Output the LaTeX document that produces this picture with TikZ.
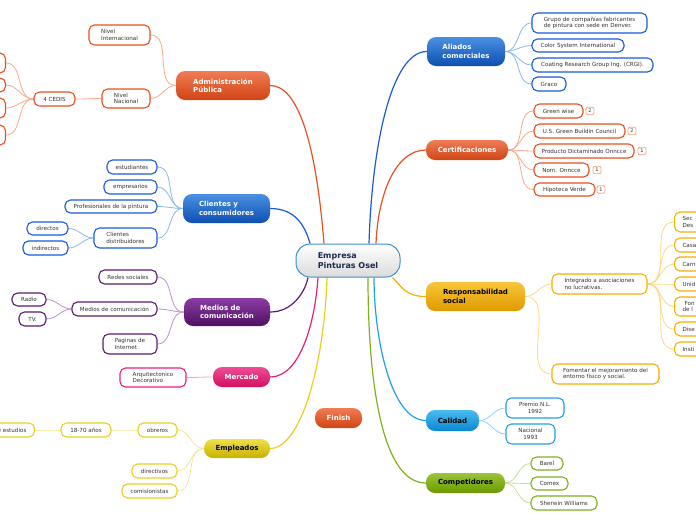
\documentclass[tikz,border=0pt]{standalone}
\usepackage{fontspec}
\setmainfont{DejaVu Sans}
\usetikzlibrary{backgrounds,calc}
\definecolor{txtgray}{HTML}{333333}
\definecolor{bluetop}{HTML}{4A90E2}\definecolor{bluebot}{HTML}{0D4FB0}\definecolor{blueb}{HTML}{1A5AD8}\definecolor{bluel}{HTML}{8AB8F0}
\definecolor{redtop}{HTML}{F07C55}\definecolor{redbot}{HTML}{D04414}\definecolor{redb}{HTML}{E85020}\definecolor{redl}{HTML}{F8AA8C}
\definecolor{goldtop}{HTML}{F8C638}\definecolor{goldbot}{HTML}{E09A00}\definecolor{goldb}{HTML}{F5B000}\definecolor{goldl}{HTML}{FCD888}
\definecolor{ltbtop}{HTML}{48BCF0}\definecolor{ltbbot}{HTML}{0A88D0}\definecolor{ltbb}{HTML}{20A0E8}\definecolor{ltbl}{HTML}{90D0F8}
\definecolor{grntop}{HTML}{9CC438}\definecolor{grnbot}{HTML}{6A9A00}\definecolor{grnb}{HTML}{80B020}\definecolor{grnl}{HTML}{C4E098}
\definecolor{purtop}{HTML}{8C3CA4}\definecolor{purbot}{HTML}{4E1060}\definecolor{purb}{HTML}{5A1A70}\definecolor{purl}{HTML}{BC94CC}
\definecolor{pnktop}{HTML}{F04C94}\definecolor{pnkbot}{HTML}{D01060}\definecolor{pnkb}{HTML}{E82078}\definecolor{pnkl}{HTML}{F8A4CC}
\definecolor{yeltop}{HTML}{F0E048}\definecolor{yelbot}{HTML}{C8B000}\definecolor{yelb}{HTML}{E8D020}\definecolor{yell}{HTML}{F0E898}
\definecolor{ctrb}{HTML}{3A90D0}\definecolor{ctrt}{HTML}{1A2A50}\definecolor{badgeb}{HTML}{F4A888}
\tikzset{
  mainbox/.style={rounded corners=9pt, inner sep=0pt, align=left,
    font=\bfseries\fontsize{7}{8.4}\selectfont},
  subbox/.style={draw, fill=white, rounded corners=5.5pt, line width=1.1pt, inner sep=0pt,
    align=left, text=txtgray, font=\fontsize{5.6}{6.6}\selectfont},
  badge/.style={draw=badgeb, fill=white, rounded corners=2pt, line width=0.8pt, inner sep=0pt,
    minimum width=8pt, minimum height=7.5pt, text=txtgray, font=\fontsize{5}{5}\selectfont},
  mline/.style={line width=1.2pt},
  sline/.style={line width=0.8pt},
}
\begin{document}
\begin{tikzpicture}[x=1pt,y=-1pt]
\useasboundingbox (0,0) rectangle (696,520);
% centre
\node[draw=ctrb, line width=1pt, top color=white, bottom color=black!14, rounded corners=14pt,
  minimum width=104pt, minimum height=33pt, inner sep=0pt, align=left, text=ctrt,
  font=\bfseries\fontsize{8}{9.6}\selectfont] (ctr) at (348,260.5) {Empresa\\Pinturas Osel};
% main branches
\node[mainbox, top color=bluetop, bottom color=bluebot, text=white, minimum width=78pt, minimum height=29pt] (ali) at (466,51.5) {Aliados\\comerciales};
\node[mainbox, top color=redtop, bottom color=redbot, text=white, minimum width=82pt, minimum height=20pt] (cert) at (467,150) {Certificaciones};
\node[mainbox, top color=goldtop, bottom color=goldbot, text=black, minimum width=99pt, minimum height=29pt] (resp) at (475.5,296.5) {Responsabilidad\\social};
\node[mainbox, top color=ltbtop, bottom color=ltbbot, text=black, minimum width=53pt, minimum height=21pt] (cal) at (452.5,420.5) {Calidad};
\node[mainbox, top color=grntop, bottom color=grnbot, text=black, minimum width=79pt, minimum height=20pt] (comp) at (465.5,483) {Competidores};
\node[mainbox, top color=redtop, bottom color=redbot, text=white, minimum width=94pt, minimum height=29pt] (adm) at (223,85.5) {Administración\\Pública};
\node[mainbox, top color=bluetop, bottom color=bluebot, text=white, minimum width=87pt, minimum height=29pt] (cli) at (226.5,208.5) {Clientes y\\consumidores};
\node[mainbox, top color=purtop, bottom color=purbot, text=white, minimum width=86pt, minimum height=28pt] (med) at (227,312) {Medios de\\comunicación};
\node[mainbox, top color=pnktop, bottom color=pnkbot, text=white, minimum width=57pt, minimum height=20pt] (merc) at (241.5,377) {Mercado};
\node[mainbox, top color=yeltop, bottom color=yelbot, text=black, minimum width=66pt, minimum height=19pt] (emp) at (237,448.5) {Empleados};
\node[mainbox, top color=redtop, bottom color=redbot, text=white, minimum width=47pt, minimum height=20pt] (fin) at (338.5,418) {Finish};
% Aliados
\begin{scope}[every node/.append style={subbox, draw=blueb}]
\node[minimum width=115pt, minimum height=20pt] (a1) at (589.5,23) {Grupo de compañías fabricantes\\de pintura con sede en Denver.};
\node[minimum width=92pt, minimum height=13pt] (a2) at (578,45.5) {Color System International};
\node[minimum width=121pt, minimum height=14pt] (a3) at (592.5,65) {Coating Research Group Ing. (CRGI).};
\node[minimum width=34pt, minimum height=14pt] (a4) at (549,84) {Graco};
\end{scope}
% Certificaciones
\begin{scope}[every node/.append style={subbox, draw=redb}]
\node[minimum width=49pt, minimum height=14pt] (c1) at (558.5,111) {Green wise};
\node[minimum width=91pt, minimum height=14pt] (c2) at (579.5,131) {U.S. Green Buildin Council};
\node[minimum width=100pt, minimum height=14pt] (c3) at (584,151) {Producto Dictaminado Onncce};
\node[minimum width=55pt, minimum height=14pt] (c4) at (561.5,170) {Nom. Onncce};
\node[minimum width=61pt, minimum height=13pt] (c5) at (564.5,189.5) {Hipoteca Verde};
\end{scope}
\node[badge] (b1) at (590,111) {2};
\node[badge] (b2) at (632,131) {2};
\node[badge] (b3) at (642,151) {1};
\node[badge] (b4) at (597,170) {1};
\node[badge] (b5) at (601,189.5) {1};
% Responsabilidad
\begin{scope}[every node/.append style={subbox, draw=goldb}]
\node[minimum width=95pt, minimum height=20pt] (r1) at (599.5,284) {Integrado a asociaciones\\no lucrativas.};
\node[minimum width=107pt, minimum height=20pt] (r2) at (605.5,374) {Fomentar el mejoramiento del\\entorno físico y social.};
\node[anchor=west, inner xsep=8pt, text width=32pt, minimum height=20pt] (s1) at (674,222) {Sec\\Des};
\node[anchor=west, inner xsep=8pt, text width=32pt, minimum height=14pt] (s2) at (674,245) {Casa};
\node[anchor=west, inner xsep=8pt, text width=32pt, minimum height=14pt] (s3) at (674,264) {Carn};
\node[anchor=west, inner xsep=8pt, text width=32pt, minimum height=14pt] (s4) at (674,284) {Unid};
\node[anchor=west, inner xsep=8pt, text width=32pt, minimum height=19pt] (s5) at (674,306.5) {\hspace*{2pt}Fon\\de l};
\node[anchor=west, inner xsep=8pt, text width=32pt, minimum height=14pt] (s6) at (674,329) {Dise};
\node[anchor=west, inner xsep=8pt, text width=32pt, minimum height=14pt] (s7) at (674,349) {Insti};
\end{scope}
% Calidad
\begin{scope}[every node/.append style={subbox, draw=ltbb, align=center}]
\node[minimum width=58pt, minimum height=20pt] (q1) at (535,408) {Premio N.L.\\1992};
\node[minimum width=49pt, minimum height=20pt] (q2) at (530.5,434) {Nacional\\1993};
\end{scope}
% Competidores
\begin{scope}[every node/.append style={subbox, draw=grnb}]
\node[minimum width=32pt, minimum height=13pt] (k1) at (547,463.5) {Barel};
\node[minimum width=37pt, minimum height=13pt] (k2) at (549.5,483.5) {Comex};
\node[minimum width=66pt, minimum height=14pt] (k3) at (564,503) {Sherwin Williams};
\end{scope}
% Administracion
\begin{scope}[every node/.append style={subbox, draw=redb}]
\node[minimum width=61pt, minimum height=20pt] (n1) at (119.5,35) {Nivel\\Internacional};
\node[minimum width=48pt, minimum height=19pt] (n2) at (126,98.5) {Nivel\\Nacional};
\node[minimum width=41pt, minimum height=14pt] (n3) at (54.5,99) {4 CEDIS};
\node[anchor=east, minimum width=30pt, minimum height=20pt] (d1) at (6,63) {};
\node[anchor=east, minimum width=30pt, minimum height=14pt] (d2) at (6,85) {};
\node[anchor=east, minimum width=30pt, minimum height=20pt] (d3) at (6,108) {};
\node[anchor=east, minimum width=30pt, minimum height=20pt] (d4) at (6,135) {};
\end{scope}
% Clientes
\begin{scope}[every node/.append style={subbox, draw=blueb}]
\node[minimum width=50pt, minimum height=14pt] (l1) at (132,167) {estudiantes};
\node[minimum width=53pt, minimum height=14pt] (l2) at (130.5,187) {empresarios};
\node[minimum width=92pt, minimum height=13pt] (l3) at (111,206.5) {Profesionales de la pintura};
\node[minimum width=63pt, minimum height=20pt] (l4) at (125.5,238) {Clientes\\distribuidores};
\node[minimum width=41pt, minimum height=13pt] (l5) at (47.5,228.5) {directos};
\node[minimum width=45pt, minimum height=14pt] (l6) at (45.5,248) {indirectos};
\end{scope}
% Medios
\begin{scope}[every node/.append style={subbox, draw=purb}]
\node[minimum width=58pt, minimum height=14pt] (m1) at (128,277) {Redes sociales};
\node[minimum width=85pt, minimum height=14pt] (m2) at (114.5,309) {Medios de comunicación};
\node[minimum width=34pt, minimum height=13pt] (m3) at (29,299.5) {Radio};
\node[minimum width=27pt, minimum height=14pt] (m4) at (32.5,319) {TV.};
\node[minimum width=54pt, minimum height=20pt] (m5) at (130,344) {Paginas de\\Internet};
\end{scope}
% Mercado
\node[subbox, draw=pnkb, minimum width=66pt, minimum height=19pt] (p1) at (153,377.5) {Arquitectonico\\Decorativo};
% Empleados
\begin{scope}[every node/.append style={subbox, draw=yelb}]
\node[minimum width=39pt, minimum height=14pt] (e1) at (157.5,430) {obreros};
\node[minimum width=50pt, minimum height=14pt] (e2) at (86,430) {18-70 años};
\node[anchor=east, inner xsep=8pt, text width=40pt, align=right, minimum height=14pt] (e3) at (35,430) {de estudios};
\node[minimum width=45pt, minimum height=14pt] (e4) at (154.5,471) {directivos};
\node[minimum width=55pt, minimum height=14pt] (e5) at (149.5,491) {comisionistas};
\end{scope}
% connectors
\begin{pgfonlayer}{background}
\fill[white] (0,0) rectangle (696,520);
\draw[mline, draw=redb] (adm.east) .. controls +(28,0) and +(-8,-100) .. ($(ctr.north)+(-24,0)$);
\draw[mline, draw=blueb] (cli.east) .. controls +(25,0) and +(-5,-18) .. ($(ctr.north)+(-38,0)$);
\draw[mline, draw=purb] (med.east) .. controls +(22,0) and +(-3,15) .. ($(ctr.south)+(-40,0)$);
\draw[mline, draw=pnkb] (merc.east) .. controls +(30,0) and +(-3,45) .. ($(ctr.south)+(-30,0)$);
\draw[mline, draw=yelb] (emp.east) .. controls +(30,0) and +(-3,90) .. ($(ctr.south)+(-21,0)$);
\draw[mline, draw=blueb] (ali.west) .. controls +(-35,0) and +(3,-100) .. ($(ctr.north)+(21,0)$);
\draw[mline, draw=redb] (cert.west) .. controls +(-30,0) and +(2,-50) .. ($(ctr.north)+(28,0)$);
\draw[mline, draw=goldb] (resp.west) .. controls +(-20,0) and +(10,10) .. ($(ctr.south east)+(-8,0)$);
\draw[mline, draw=ltbb] (cal.west) .. controls +(-35,0) and +(0,60) .. ($(ctr.south)+(26,0)$);
\draw[mline, draw=grnb] (comp.west) .. controls +(-45,0) and +(0,100) .. ($(ctr.south)+(20,0)$);
\begin{scope}[sline]
\foreach \c in {a1,a2,a3,a4} \draw[bluel] (ali.east) to[out=0,in=180] (\c.west);
\foreach \c in {c1,c2,c3,c4,c5} \draw[redl] (cert.east) to[out=0,in=180] (\c.west);
\foreach \c in {r1,r2} \draw[goldl] (resp.east) to[out=0,in=180] (\c.west);
\foreach \c in {s1,s2,s3,s4,s5,s6,s7} \draw[goldl] (r1.east) to[out=0,in=180] (\c.west);
\foreach \c in {q1,q2} \draw[ltbl] (cal.east) to[out=0,in=180] (\c.west);
\foreach \c in {k1,k2,k3} \draw[grnl] (comp.east) to[out=0,in=180] (\c.west);
\foreach \c in {n1,n2} \draw[redl] (adm.west) to[out=180,in=0] (\c.east);
\draw[redl] (n2.west) to[out=180,in=0] (n3.east);
\foreach \c in {d1,d2,d3,d4} \draw[redl] (n3.west) to[out=180,in=0] (\c.east);
\foreach \c in {l1,l2,l3,l4} \draw[bluel] (cli.west) to[out=180,in=0] (\c.east);
\foreach \c in {l5,l6} \draw[bluel] (l4.west) to[out=180,in=0] (\c.east);
\foreach \c in {m1,m2,m5} \draw[purl] (med.west) to[out=180,in=0] (\c.east);
\foreach \c in {m3,m4} \draw[purl] (m2.west) to[out=180,in=0] (\c.east);
\draw[pnkl] (merc.west) to[out=180,in=0] (p1.east);
\foreach \c in {e1,e4,e5} \draw[yell] (emp.west) to[out=180,in=0] (\c.east);
\draw[yell] (e1.west) to[out=180,in=0] (e2.east);
\draw[yell] (e2.west) to[out=180,in=0] (e3.east);
\end{scope}
\end{pgfonlayer}
\end{tikzpicture}
\end{document}
